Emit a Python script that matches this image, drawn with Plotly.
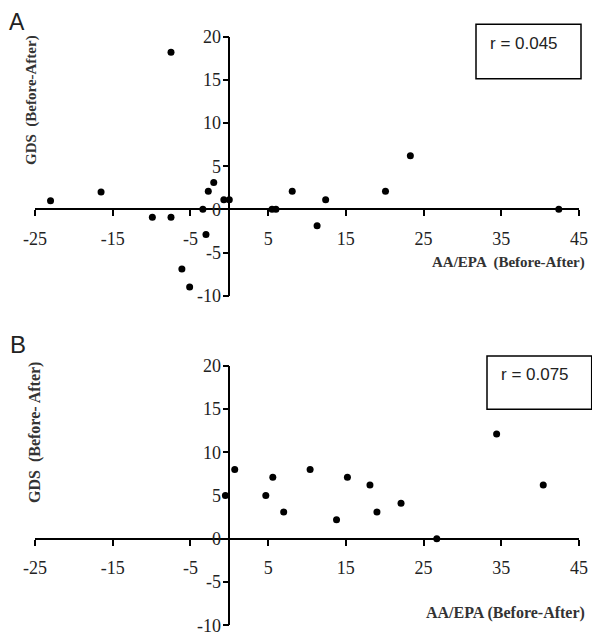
import plotly.graph_objects as go

# Panel A data: AA/EPA (Before-After) vs GDS (Before-After)
a_x = [-23.0, -16.5, -7.5, -9.9, -7.5, -6.1, -5.1, -3.4, -3.0, -2.7, -2.0, -0.7, 0.0,
       5.5, 6.0, 8.1, 11.3, 12.4, 20.1, 23.3, 42.4]
a_y = [1, 2, 18.2, -0.9, -0.9, -6.9, -9.0, 0, -2.9, 2.1, 3.1, 1.1, 1.1,
       0, 0, 2.1, -1.9, 1.1, 2.1, 6.2, 0]

# Panel B data
b_x = [-0.5, 0.7, 4.7, 5.6, 7.0, 10.4, 15.2, 13.8, 18.1, 19.0, 22.1, 26.7, 34.4, 40.4]
b_y = [5, 8, 5, 7.1, 3.1, 8, 7.1, 2.2, 6.2, 3.1, 4.1, 0, 12.1, 6.2]

x_ticks = [-25, -15, -5, 5, 15, 25, 35, 45]
x_ticktext = ["-25", "-15", "-5", "5", "15", "25", "35", "45"]
y_ticks = [-10, -5, 0, 5, 10, 15, 20]
y_ticktext = ["-10", "-5", "0", "5", "10", "15", "20"]
x_range = [-25, 45]
y_range = [-10, 20]

r_a = "r = 0.045"
r_b = "r = 0.075"

# page body has an 8px default margin; figure sized to fit the window
OFF = 8
W, H = 600 - OFF, 638 - OFF

def px(sx):
    return (sx - OFF) / W

def py(sy):
    return 1 - (sy - OFF) / H

xdom = [px(35), px(579)]
ydom_a = [py(295.7), py(36.7)]
ydom_b = [py(625.3), py(365.7)]

def frac(v, rng):
    return (v - rng[0]) / (rng[1] - rng[0])

yaxis_pos = xdom[0] + (xdom[1] - xdom[0]) * frac(0, x_range)
xaxis_pos_a = ydom_a[0] + (ydom_a[1] - ydom_a[0]) * frac(0, y_range)
xaxis_pos_b = ydom_b[0] + (ydom_b[1] - ydom_b[0]) * frac(0, y_range)

fig = go.Figure()
marker = dict(color="black", size=7)
fig.add_trace(go.Scatter(x=a_x, y=a_y, mode="markers", marker=marker, xaxis="x", yaxis="y"))
fig.add_trace(go.Scatter(x=b_x, y=b_y, mode="markers", marker=marker, xaxis="x2", yaxis="y2"))

serif = "Liberation Serif, Times New Roman, serif"
tickfont = dict(family=serif, size=18, color="#222")
common_x = dict(range=x_range, tickvals=x_ticks, ticktext=x_ticktext, showline=True,
                linecolor="black", linewidth=1.5,
                ticks="outside", ticklen=6, tickwidth=1.5, tickcolor="black",
                showgrid=False, zeroline=False, tickfont=tickfont, ticklabelstandoff=7,
                domain=xdom, anchor="free", automargin=False)
common_y = dict(range=y_range, tickvals=y_ticks, ticktext=y_ticktext, showline=True,
                linecolor="black", linewidth=1.5,
                ticks="outside", ticklen=6, tickwidth=1.5, tickcolor="black",
                showgrid=False, zeroline=False, tickfont=tickfont, ticklabelstandoff=-2,
                anchor="free", position=yaxis_pos, automargin=False)

fig.update_layout(
    width=W, height=H, margin=dict(l=0, r=0, t=0, b=0, autoexpand=False),
    plot_bgcolor="white", paper_bgcolor="white", showlegend=False,
    xaxis=dict(**common_x, position=xaxis_pos_a),
    yaxis=dict(**common_y, domain=ydom_a),
    xaxis2=dict(**common_x, position=xaxis_pos_b),
    yaxis2=dict(**common_y, domain=ydom_b),
)

title_font = dict(family=serif, size=15, color="#333")
ann = [
    dict(text="A", x=px(8), y=py(8), xanchor="left", yanchor="top", borderpad=0,
         font=dict(family="Liberation Sans", size=23, color="#222")),
    dict(text="B", x=px(8), y=py(344), xanchor="left", yanchor="middle",
         font=dict(family="Liberation Sans", size=24, color="#222")),
    dict(text="<b>GDS  (Before-After)</b>", textangle=-90, x=px(31), y=py(100),
         xanchor="center", yanchor="middle", font=title_font),
    dict(text="<b>GDS  (Before- After)</b>", textangle=-90, x=px(35), y=py(433),
         xanchor="center", yanchor="middle", font=dict(family=serif, size=16, color="#333")),
    dict(text="<b>AA/EPA  (Before-After)</b>", x=px(587), y=py(262.5),
         xanchor="right", yanchor="middle", font=title_font),
    dict(text="<b>AA/EPA (Before-After)</b>", x=px(587), y=py(612.5),
         xanchor="right", yanchor="middle", font=dict(family=serif, size=16, color="#333")),
    dict(text=r_a, x=px(488), y=py(43.5), xanchor="left", yanchor="middle",
         font=dict(family="Liberation Sans", size=17, color="#222")),
    dict(text=r_b, x=px(499), y=py(374), xanchor="left", yanchor="middle",
         font=dict(family="Liberation Sans", size=17, color="#222")),
]
for a in ann:
    a.update(xref="paper", yref="paper", showarrow=False)
fig.update_layout(annotations=ann)

fig.update_layout(shapes=[
    dict(type="rect", xref="paper", yref="paper", x0=px(476), x1=px(581),
         y0=py(78.7), y1=py(24.3), line=dict(color="black", width=1.5)),
    dict(type="rect", xref="paper", yref="paper", x0=px(487), x1=px(591.7),
         y0=py(409.3), y1=py(356), line=dict(color="black", width=1.5)),
])

fig.write_html("out.html")
